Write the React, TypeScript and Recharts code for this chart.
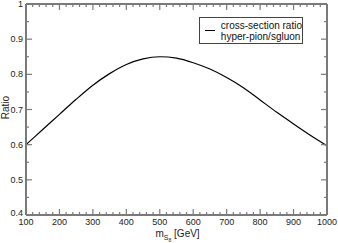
import React from 'react';
import { LineChart, Line, XAxis, YAxis } from 'recharts';

// sgluon mass (GeV) and the cross-section ratio
const massGeV = [100, 150, 200, 250, 300, 350, 400, 450, 500, 550, 600, 650, 700, 750, 800, 850, 900, 950, 1000];
const ratio = [0.600, 0.643, 0.686, 0.729, 0.769, 0.802, 0.828, 0.844, 0.850, 0.846, 0.833, 0.815, 0.791, 0.762, 0.727, 0.692, 0.659, 0.627, 0.597];

const xMajor = [100, 200, 300, 400, 500, 600, 700, 800, 900, 1000];
const yMajor = [0.4, 0.5, 0.6, 0.7, 0.8, 0.9, 1];
const yLabels = ['0.4', '0.5', '0.6', '0.7', '0.8', '0.9', '1'];
const legendLines = ['cross-section ratio', 'hyper-pion/sgluon'];

const xAll = Array.from({ length: 46 }, (_, i) => 100 + i * 20);
const yAll = Array.from({ length: 13 }, (_, i) => Math.round((0.4 + i * 0.05) * 100) / 100);

const data = massGeV.map((m, i) => ({ m, ratio: ratio[i] }));

const FONT = '"Liberation Sans", Arial, Helvetica, sans-serif';
const AXIS = '#7a7a7a';

const isMajorY = (v: number) => yMajor.some((t) => Math.abs(t - v) < 1e-6);

function XTick({ x, y, payload, top }: any) {
  const major = xMajor.includes(payload.value);
  const len = major ? 6 : 3;
  return (
    <g>
      <line x1={x} x2={x} y1={y} y2={top ? y + len : y - len} stroke={AXIS} strokeWidth={1.2} />
      {!top && major && (
        <text x={x} y={y + 10} textAnchor="middle" fontSize={9} fill="#222" fontFamily={FONT}>
          {payload.value}
        </text>
      )}
    </g>
  );
}

function YTick({ x, y, payload, right }: any) {
  const major = isMajorY(payload.value);
  const len = major ? 6 : 3;
  const idx = yMajor.findIndex((t) => Math.abs(t - payload.value) < 1e-6);
  return (
    <g>
      <line x1={x} x2={right ? x - len : x + len} y1={y} y2={y} stroke={AXIS} strokeWidth={1.2} />
      {!right && major && (
        <text x={x - 3} y={idx === 0 ? y + 1 : y + 3} textAnchor="end" fontSize={9} fill="#222" fontFamily={FONT}>
          {yLabels[idx]}
        </text>
      )}
    </g>
  );
}

function LegendBox() {
  return (
    <div
      style={{
        position: 'absolute',
        left: 199,
        top: 17,
        width: 104,
        height: 27,
        border: '1px solid #444',
        background: '#fff',
        display: 'flex',
        alignItems: 'center',
        fontFamily: FONT,
        fontSize: 10,
        lineHeight: '11px',
        color: '#111',
        whiteSpace: 'nowrap',
        boxSizing: 'border-box',
      }}
    >
      <div style={{ width: 13, borderTop: '1.2px solid #000', marginLeft: 5, marginRight: 6 }} />
      <div>
        {legendLines[0]}
        <br />
        {legendLines[1]}
      </div>
    </div>
  );
}

export default function App() {
  return (
    <div style={{ position: 'absolute', left: 0, top: 0, width: 338, height: 243, background: '#fff' }}>
      <LineChart width={338} height={243} data={data} margin={{ top: 0, right: 0, bottom: 0, left: 0 }}>
        <XAxis
          xAxisId="b"
          dataKey="m"
          type="number"
          domain={[100, 1000]}
          ticks={xAll}
          interval={0}
          height={28}
          tickSize={0}
          tickMargin={0}
          tickLine={false}
          axisLine={{ stroke: AXIS, strokeWidth: 2 }}
          tick={(p: any) => <XTick {...p} />}
          label={(p: any) => {
            const vb = p.viewBox;
            const cx = vb.x + vb.width / 2;
            return (
              <text x={cx - 21} y={vb.y + 22} fontSize={10} fill="#222" fontFamily={FONT}>
                m
                <tspan dy={3} fontSize={7}>S</tspan>
                <tspan dy={2} fontSize={5}>8</tspan>
                <tspan dy={-5} fontSize={10}> [GeV]</tspan>
              </text>
            );
          }}
        />
        <XAxis
          xAxisId="t"
          orientation="top"
          dataKey="m"
          type="number"
          domain={[100, 1000]}
          ticks={xAll}
          interval={0}
          height={4}
          tickSize={0}
          tickMargin={0}
          tickLine={false}
          axisLine={{ stroke: AXIS, strokeWidth: 2 }}
          tick={(p: any) => <XTick {...p} top />}
        />
        <YAxis
          yAxisId="l"
          type="number"
          domain={[0.4, 1]}
          ticks={yAll}
          interval={0}
          width={26}
          tickSize={0}
          tickMargin={0}
          tickLine={false}
          allowDataOverflow
          axisLine={{ stroke: AXIS, strokeWidth: 2 }}
          tick={(p: any) => <YTick {...p} />}
          label={(p: any) => {
            const vb = p.viewBox;
            const cy = vb.y + vb.height / 2;
            return (
              <text
                x={9}
                y={cy - 2}
                transform={`rotate(-90 9 ${cy - 2})`}
                textAnchor="middle"
                fontSize={10}
                fill="#222"
                fontFamily={FONT}
              >
                Ratio
              </text>
            );
          }}
        />
        <YAxis
          yAxisId="r"
          orientation="right"
          type="number"
          domain={[0.4, 1]}
          ticks={yAll}
          interval={0}
          width={11}
          tickSize={0}
          tickMargin={0}
          tickLine={false}
          allowDataOverflow
          axisLine={{ stroke: AXIS, strokeWidth: 2 }}
          tick={(p: any) => <YTick {...p} right />}
        />
        <Line
          xAxisId="b"
          yAxisId="l"
          type="monotone"
          dataKey="ratio"
          stroke="#000"
          strokeWidth={1.2}
          dot={false}
          isAnimationActive={false}
        />
      </LineChart>
      <LegendBox />
    </div>
  );
}
